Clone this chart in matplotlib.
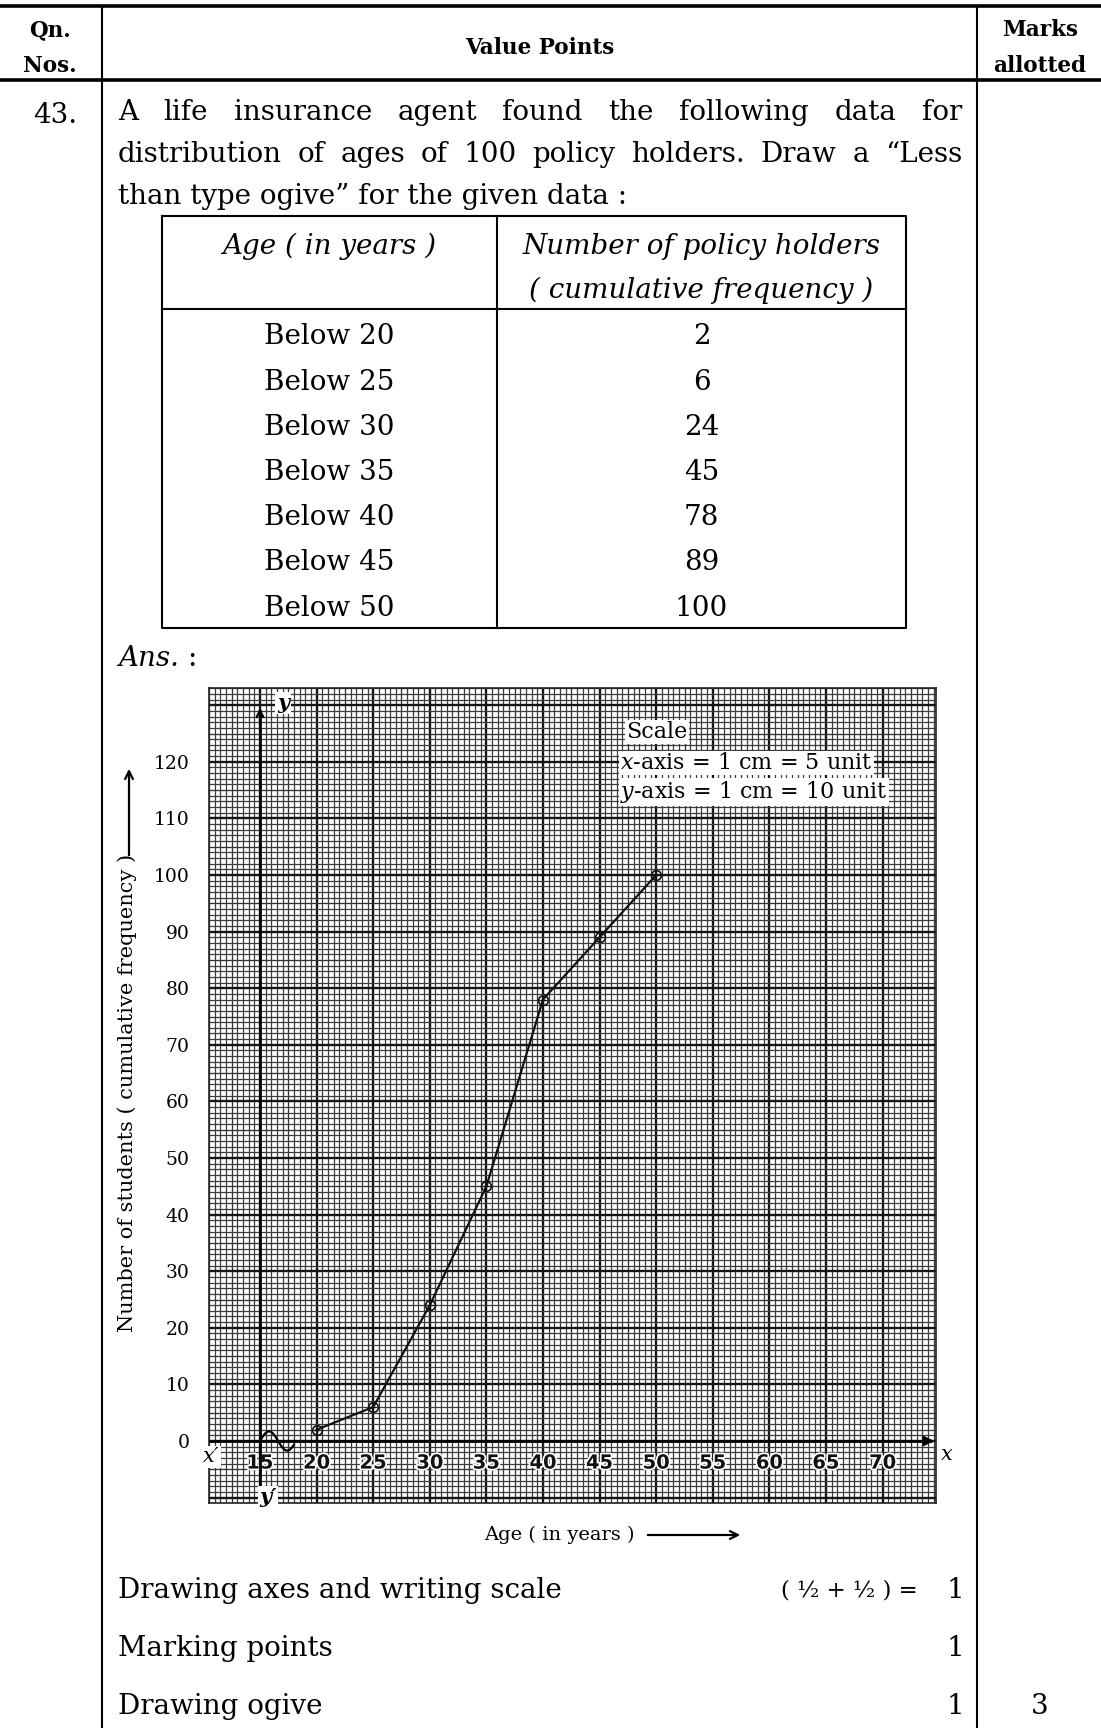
import matplotlib.pyplot as plt
import numpy as np
from matplotlib import patheffects as pe

plt.rcParams.update({
    'font.family': 'DejaVu Serif',
    'mathtext.fontset': 'dejavuserif',
})

# Data
ages = [20, 25, 30, 35, 40, 45, 50]
cum_freq = [2, 6, 24, 45, 78, 89, 100]
x_ticks = list(range(15, 71, 5))
y_ticks = list(range(0, 121, 10))
mark_items = ['Drawing axes and writing scale', 'Marking points', 'Drawing ogive']
mark_values = [1, 1, 1]
total_marks = 3

W, H = 1101, 1728
fig = plt.figure(figsize=(W / 100, H / 100), dpi=100)
fig.patch.set_facecolor('white')

# graph paper geometry (pixels)
X0, Y0 = 260, 1441      # pixel of (15, 0)
SX, SY = 11.32, 5.66    # px per unit
xmin, xmax, ymin, ymax = 10.5, 74.75, -11, 133

lpx = X0 + (xmin - 15) * SX
rpx = X0 + (xmax - 15) * SX
tpx = Y0 - ymax * SY
bpx = Y0 - ymin * SY
ax = fig.add_axes([lpx / W, 1 - bpx / H, (rpx - lpx) / W, (bpx - tpx) / H])
ax.set_xlim(xmin, xmax)
ax.set_ylim(ymin, ymax)

# grid lines (1 mm, 5 mm, 1 cm)
gx = np.arange(xmin, xmax, 0.5)
gy = np.arange(ymin, ymax + 0.1, 1)
for vals, is_x, step in [(gx, True, 5), (gy, False, 10)]:
    major = [v for v in vals if v % step == 0]
    mid = [v for v in vals if v % step != 0 and v % (step / 2) == 0]
    minor = [v for v in vals if v % (step / 2) != 0]
    for group, lw, col in [(minor, 0.9, '#3c3c3c'), (mid, 0.95, '#333333'), (major, 1.7, '#151515')]:
        if is_x:
            ax.vlines(group, ymin, ymax, colors=col, lw=lw, zorder=1)
        else:
            ax.hlines(group, xmin, xmax, colors=col, lw=lw, zorder=1)

for s in ax.spines.values():
    s.set_color('#222222')
    s.set_linewidth(1.2)

# axes lines
ax.plot([xmin, xmax - 0.4], [0, 0], color='black', lw=2.0, zorder=6, solid_capstyle='butt')
ax.annotate('', xy=(xmax + 0.05, 0), xytext=(xmax - 1.2, 0),
            arrowprops=dict(arrowstyle='-|>', color='black', lw=1.8, mutation_scale=14),
            annotation_clip=False, zorder=6)
ax.plot([15, 15], [ymin, 129.0], color='black', lw=2.0, zorder=6)
ax.annotate('', xy=(15, 130), xytext=(15, 126),
            arrowprops=dict(arrowstyle='->', color='black', lw=1.6, mutation_scale=12),
            annotation_clip=False, zorder=6)

# axis-break kink
kx = np.linspace(15, 18, 80)
ax.plot(kx, 1.7 * np.sin(2 * np.pi * (kx - 15) / 3.2), color='black', lw=1.6, zorder=6)

# x tick labels drawn on the paper
for xt in x_ticks:
    ax.text(xt, -3.9, str(xt), ha='center', va='center', fontsize=14,
            fontweight='bold', family='DejaVu Sans', color='#111111', zorder=4,
            path_effects=[pe.withStroke(linewidth=2.5, foreground='white')])

# ogive
ax.plot(ages, cum_freq, color='#111111', lw=1.6, zorder=7)
ax.plot(ages, cum_freq, 'o', ms=7, mfc='none', mec='#111111', mew=1.2, zorder=8)
ax.plot(ages, cum_freq, '+', ms=5, color='#111111', mew=0.9, zorder=8)

ax.set_xticks([])
ax.set_yticks(y_ticks)
ax.set_yticklabels([str(v) for v in y_ticks])
ax.tick_params(axis='y', length=0, pad=14, labelsize=13.5)

# page layer in pixel coordinates
pg = fig.add_axes([0, 0, 1, 1])
pg.set_xlim(0, W)
pg.set_ylim(H, 0)
pg.axis('off')

# outer frame
pg.plot([0, W], [5.5, 5.5], color='black', lw=2.6)
pg.plot([0, W], [80, 80], color='black', lw=2.6)
pg.plot([102, 102], [5.5, H], color='black', lw=1.5)
pg.plot([977, 977], [5.5, H], color='black', lw=1.5)

hdr = dict(fontweight='bold', fontsize=15.5, ha='center', va='center')
pg.text(50, 30, 'Qn.', **hdr)
pg.text(50, 66, 'Nos.', **hdr)
pg.text(540, 48, 'Value Points', **hdr)
pg.text(1040, 30, 'Marks', **hdr)
pg.text(1040, 66, 'allotted', **hdr)

BODY = 20
renderer = fig.canvas.get_renderer()


def justify(words, x0, x1, y, **kw):
    ts = [pg.text(0, y, w, va='baseline', ha='left', **kw) for w in words]
    ws = [t.get_window_extent(renderer).width for t in ts]
    gap = (x1 - x0 - sum(ws)) / (len(ws) - 1)
    x = x0
    for t, w in zip(ts, ws):
        t.set_x(x)
        x += w + gap


pg.text(55, 123, '43.', fontsize=BODY, ha='center', va='baseline')
justify('A life insurance agent found the following data for'.split(), 118, 962, 120, fontsize=BODY)
justify('distribution of ages of 100 policy holders. Draw a \u201cLess'.split(), 118, 962, 162, fontsize=BODY)
pg.text(118, 204, 'than type ogive\u201d for the given data :', fontsize=BODY, va='baseline')

# data table
tl, tr, tt, th, tb, tm = 162, 906, 216, 309, 628, 497
pg.plot([tl, tr, tr, tl, tl], [tt, tt, tb, tb, tt], color='black', lw=1.5)
pg.plot([tl, tr], [th, th], color='black', lw=1.5)
pg.plot([tm, tm], [tt, tb], color='black', lw=1.5)
cl, cr = (tl + tm) / 2, (tm + tr) / 2
pg.text(cl, 246, 'Age ( in years )', style='italic', fontsize=BODY, ha='center', va='center')
pg.text(cr, 246, 'Number of policy holders', style='italic', fontsize=BODY, ha='center', va='center')
pg.text(cr, 290, '( cumulative frequency )', style='italic', fontsize=BODY, ha='center', va='center')
for i, (a, c) in enumerate(zip(ages, cum_freq)):
    yy = 337 + i * 45.2
    pg.text(cl, yy, f'Below {a}', fontsize=BODY, ha='center', va='center')
    pg.text(cr, yy, str(c), fontsize=BODY, ha='center', va='center')

pg.text(118, 658, 'Ans.', style='italic', fontsize=BODY, va='center')
pg.text(187, 658, ':', fontsize=BODY, va='center')

# scale note
box = dict(facecolor='white', edgecolor='none', pad=1.0)
pg.text(626, 732, 'Scale', fontsize=16, va='center', bbox=box, zorder=10)
pg.text(620, 763, '$x$-axis = 1 cm = 5 unit', fontsize=16, va='center', bbox=box, zorder=10)
pg.text(620, 792, '$y$-axis = 1 cm = 10 unit', fontsize=16, va='center', bbox=box, zorder=10)

# axis letters
pg.text(211, 1457, 'x\u2032', style='italic', fontsize=15, ha='center', va='center', bbox=box, zorder=10)
pg.text(947, 1455, 'x', style='italic', fontsize=15, ha='center', va='center', bbox=box, zorder=10)
pg.text(283, 703, 'y', style='italic', fontweight='bold', fontsize=15, ha='center', va='center', bbox=box, zorder=10)
pg.text(268, 1497, 'y\u2032', style='italic', fontweight='bold', fontsize=15, ha='center', va='center', bbox=box, zorder=10)

# axis titles with arrows
pg.text(127, 1093, 'Number of students ( cumulative frequency )', rotation=90,
        fontsize=15, ha='center', va='center')
pg.annotate('', xy=(129, 766), xytext=(129, 858),
            arrowprops=dict(arrowstyle='->', color='black', lw=1.6, mutation_scale=14))
pg.text(559, 1535, 'Age ( in years )', fontsize=14, ha='center', va='center')
pg.annotate('', xy=(743, 1535), xytext=(645, 1535),
            arrowprops=dict(arrowstyle='->', color='black', lw=1.6, mutation_scale=14))

# marking scheme
for i, (item, m) in enumerate(zip(mark_items, mark_values)):
    yy = 1590 + i * 58.5
    pg.text(118, yy, item, fontsize=BODY, va='center')
    pg.text(955, yy, str(m), fontsize=BODY, ha='center', va='center')
pg.text(918, 1590, '( \u00bd + \u00bd ) =', fontsize=16.5, ha='right', va='center')
pg.text(1040, 1707, str(total_marks), fontsize=BODY, ha='center', va='center')

fig.savefig('out.png', dpi=100, facecolor='white')
